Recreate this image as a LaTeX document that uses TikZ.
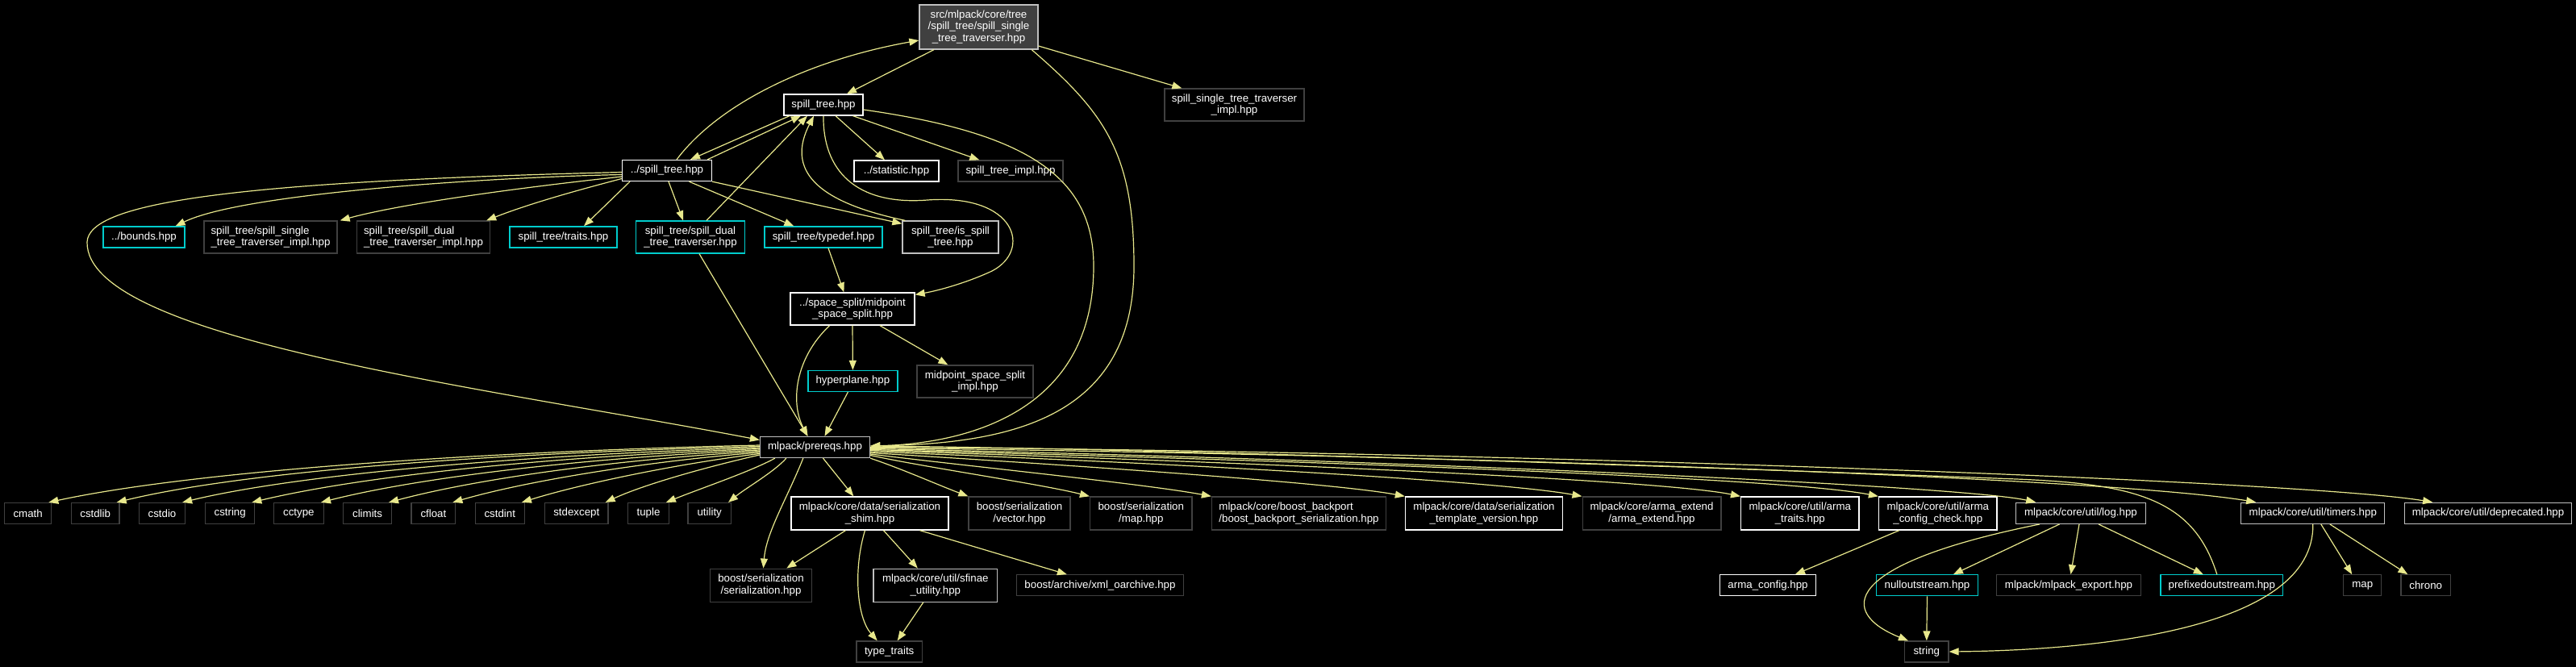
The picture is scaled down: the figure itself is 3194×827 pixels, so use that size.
\documentclass[tikz,border=0pt]{standalone}
\usepackage{fontspec}
\setmainfont{Liberation Sans}
\usetikzlibrary{arrows.meta}
\definecolor{edgec}{RGB}{232,232,140}
\definecolor{cyanb}{RGB}{0,204,204}
\definecolor{lgray}{RGB}{191,191,191}
\definecolor{dgray}{RGB}{64,64,64}
\definecolor{topfill}{RGB}{64,64,64}
\begin{document}
\begin{tikzpicture}[x=1pt,y=-1pt,
  box/.style={rectangle, fill=black, text=white, line width=1.3pt, inner sep=0pt, align=center,
    font=\fontsize{13.3}{14.7}\selectfont},
  bw/.style={box, draw=white},
  bg/.style={box, draw=lgray},
  bd/.style={box, draw=dgray},
  bc/.style={box, draw=cyanb},
  e/.style={draw=edgec, line width=1.2pt, -{Triangle[length=12pt,width=9pt]}}]
\fill[black] (0,0) rectangle (3194,827);
\useasboundingbox (0,0) rectangle (3194,827);

% ---- nodes ----
\node[box, draw=lgray, fill=topfill, minimum width=147, minimum height=55] (T) at (1213.5,33.5)
  {src/mlpack/core/tree\\/spill\_tree/spill\_single\\\_tree\_traverser.hpp};
\node[bw, minimum width=98, minimum height=26] (ST) at (1021,130) {spill\_tree.hpp};
\node[bd, minimum width=173, minimum height=40] (STI) at (1530.5,130) {spill\_single\_tree\_traverser\\\_impl.hpp};
\node[bw, minimum width=111, minimum height=26] (ST2) at (827,211.5) {../spill\_tree.hpp};
\node[bw, minimum width=105, minimum height=26] (STAT) at (1111.5,212) {../statistic.hpp};
\node[bd, minimum width=130, minimum height=26] (STIMPL) at (1253,212) {spill\_tree\_impl.hpp};
\node[bc, minimum width=101, minimum height=26] (BOUNDS) at (178.5,294) {../bounds.hpp};
\node[bd, align=left, minimum width=165, minimum height=40] (SSTI) at (335.5,294) {spill\_tree/spill\_single\\\_tree\_traverser\_impl.hpp};
\node[bd, align=left, minimum width=165, minimum height=40] (SDTI) at (525,294) {spill\_tree/spill\_dual\\\_tree\_traverser\_impl.hpp};
\node[bc, minimum width=133, minimum height=26] (TRAITS) at (698.5,294) {spill\_tree/traits.hpp};
\node[bc, minimum width=135, minimum height=40] (DT) at (856,294) {spill\_tree/spill\_dual\\\_tree\_traverser.hpp};
\node[bc, minimum width=146, minimum height=26] (TD) at (1021,294) {spill\_tree/typedef.hpp};
\node[bg, minimum width=119, minimum height=40] (ISST) at (1178.5,294) {spill\_tree/is\_spill\\\_tree.hpp};
\node[bw, minimum width=154, minimum height=40] (MS) at (1057,383) {../space\_split/midpoint\\\_space\_split.hpp};
\node[bc, minimum width=111, minimum height=26] (HP) at (1057.4,472.5) {hyperplane.hpp};
\node[bd, minimum width=144, minimum height=40] (MSI) at (1209,473) {midpoint\_space\_split\\\_impl.hpp};
\node[bg, minimum width=136, minimum height=26] (P) at (1010.5,554.5) {mlpack/prereqs.hpp};

% row 1
\node[bd, minimum width=58, minimum height=26] (cmath) at (34.7,636.5) {cmath};
\node[bd, minimum width=59.6, minimum height=26] (cstdlib) at (118.2,636.5) {cstdlib};
\node[bd, minimum width=57, minimum height=26] (cstdio) at (201,636.5) {cstdio};
\node[bd, minimum width=61, minimum height=26] (cstring) at (285.2,636.5) {cstring};
\node[bd, minimum width=62, minimum height=26] (cctype) at (370.4,636.5) {cctype};
\node[bd, minimum width=59.6, minimum height=26] (climits) at (455.6,636.5) {climits};
\node[bd, minimum width=54.7, minimum height=26] (cfloat) at (537.4,636.5) {cfloat};
\node[bd, minimum width=61, minimum height=26] (cstdint) at (619.8,636.5) {cstdint};
\node[bd, minimum width=78.4, minimum height=26] (stdexcept) at (714.8,636.5) {stdexcept};
\node[bd, minimum width=50.5, minimum height=26] (tuple) at (804,636.5) {tuple};
\node[bd, minimum width=53.4, minimum height=26] (utility) at (879.7,636.5) {utility};
\node[bw, minimum width=195, minimum height=41] (SS) at (1078.5,636.5) {mlpack/core/data/serialization\\\_shim.hpp};
\node[bd, minimum width=126, minimum height=41] (VEC) at (1264,636.5) {boost/serialization\\/vector.hpp};
\node[bd, minimum width=126.4, minimum height=41] (MAP) at (1414.8,636.5) {boost/serialization\\/map.hpp};
\node[bd, align=left, minimum width=216, minimum height=41] (BBS) at (1610.5,636.5) {mlpack/core/boost\_backport\\/boost\_backport\_serialization.hpp};
\node[bw, minimum width=195, minimum height=41] (TV) at (1840,636.5) {mlpack/core/data/serialization\\\_template\_version.hpp};
\node[bd, minimum width=171.7, minimum height=41] (AE) at (2048,636.5) {mlpack/core/arma\_extend\\/arma\_extend.hpp};
\node[bw, minimum width=146.4, minimum height=41] (AT) at (2231.8,636.5) {mlpack/core/util/arma\\\_traits.hpp};
\node[bw, minimum width=146.5, minimum height=41] (ACC) at (2402.8,636.5) {mlpack/core/util/arma\\\_config\_check.hpp};
\node[bg, minimum width=160.4, minimum height=26] (LOG) at (2580,636.3) {mlpack/core/util/log.hpp};
\node[bg, minimum width=178, minimum height=26] (TIM) at (2867.8,636.3) {mlpack/core/util/timers.hpp};
\node[bg, minimum width=206.5, minimum height=26] (DEP) at (3085,636.3) {mlpack/core/util/deprecated.hpp};

% row 2
\node[bd, minimum width=126.3, minimum height=41] (BSER) at (943.5,725.7) {boost/serialization\\/serialization.hpp};
\node[bg, minimum width=153.6, minimum height=41] (SFIN) at (1159.8,725.7) {mlpack/core/util/sfinae\\\_utility.hpp};
\node[bd, minimum width=207, minimum height=26] (XML) at (1364,725.8) {boost/archive/xml\_oarchive.hpp};
\node[bw, minimum width=118.6, minimum height=26] (ACFG) at (2192,725.8) {arma\_config.hpp};
\node[bc, minimum width=125.6, minimum height=26] (nul) at (2389.5,725.8) {nulloutstream.hpp};
\node[bd, minimum width=179.3, minimum height=26] (EXP) at (2565,725.8) {mlpack/mlpack\_export.hpp};
\node[bc, minimum width=151.5, minimum height=26] (PRE) at (2754.8,725.8) {prefixedoutstream.hpp};
\node[bd, minimum width=46.8, minimum height=26] (MAPB) at (2929.2,725.8) {map};
\node[bd, minimum width=61.4, minimum height=26] (CHR) at (3007.7,725.8) {chrono};

% row 3
\node[bd, minimum width=81.3, minimum height=26] (TT) at (1102.7,808) {type\_traits};
\node[bd, minimum width=54.4, minimum height=26] (STR) at (2388.8,808) {string};

% ---- edges ----
\draw[e] ([xshift=18.6pt]T.south west) -- ([xshift=29pt]ST.north);
\draw[e] ([yshift=-23.5pt]T.east) -- ([xshift=22pt]STI.north west);
\draw[e] ([xshift=-8.4pt]T.south east) .. controls (1370,140) and (1406,190) .. (1406,330)
  .. controls (1406,520) and (1250,550) .. ([yshift=1.5pt]P.east);
\draw[e] ([yshift=-6pt]ST.east) .. controls (1275,165) and (1356,220) .. (1356,330)
  .. controls (1356,510) and (1200,550) .. ([yshift=1.5pt]P.east);
\draw[e] ([xshift=12pt]ST2.north) .. controls (890,130) and (1000,75) .. ([yshift=-16.5pt]T.west);
\draw[e] ([xshift=-42pt]ST.south) -- ([xshift=29pt]ST2.north);
\draw[e] ([xshift=-6pt]ST2.north east) -- ([xshift=-28pt]ST.south);
\draw[e] ([yshift=-5pt]ST2.west) .. controls (600,220) and (300,240) .. ([xshift=-12pt]BOUNDS.north east);
\draw[e] ([yshift=-7.5pt]ST2.west) .. controls (650,232) and (500,252) .. ([xshift=3pt]SSTI.north east);
\draw[e] ([yshift=-10pt]ST2.west) .. controls (700,240) and (650,255) .. ([xshift=-5pt]SDTI.north east);
\draw[e] ([xshift=-46pt]ST2.south) -- ([xshift=25.5pt]TRAITS.north);
\draw[e] ([xshift=2pt]ST2.south) -- ([xshift=-9pt]DT.north);
\draw[e] ([xshift=27.5pt]ST2.south) -- ([xshift=37pt]TD.north west);
\draw[e] (ST2.south east) -- ([yshift=-4pt]ISST.north west);
\draw[e] ([yshift=-2pt]ST2.west) .. controls (300,225) and (110,250) .. (108,300)
  .. controls (106,420) and (600,480) .. ([yshift=9pt]P.west);
\draw[e] ([xshift=15pt]ST.south) -- ([xshift=-14.5pt]STAT.north);
\draw[e] ([xshift=36.5pt]ST.south) -- ([xshift=27pt]STIMPL.north west);
\draw[e] (ST.south) .. controls (1020,210) and (1060,255) .. (1150,248)
  .. controls (1260,240) and (1280,310) .. (1230,336)
  .. controls (1200,350) and (1165,360) .. ([yshift=-3pt]MS.north east);
\draw[e] ([xshift=4pt]ISST.north west) .. controls (1010,250) and (975,210) .. ([xshift=-12pt]ST.south);
\draw[e] ([xshift=20pt]DT.north) -- ([xshift=-20pt]ST.south);
\draw[e] ([xshift=11pt]DT.south) -- ([xshift=-9pt]P.north);
\draw[e] ([xshift=6pt]TD.south) -- ([xshift=-10.6pt]MS.north);
\draw[e] (MS.south) -- (HP.north);
\draw[e] ([xshift=34pt]MS.south) -- ([xshift=39pt]MSI.north west);
\draw[e] ([xshift=-28.4pt]MS.south) .. controls (985,445) and (980,500) .. ([xshift=-9pt]P.north);
\draw[e] ([xshift=-6pt]HP.south) -- ([xshift=12pt]P.north);

% prereqs -> left row
\draw[e] ([yshift=2.5pt]P.west) .. controls (593,560) and (240,584) .. ([xshift=-4pt]cmath.north east);
\draw[e] ([yshift=1pt]P.west) .. controls (600,562) and (300,585) .. ([xshift=-4pt]cstdlib.north east);
\draw[e] ([yshift=-0.5pt]P.west) .. controls (650,564) and (370,588) .. ([xshift=-4pt]cstdio.north east);
\draw[e] ([yshift=-2pt]P.west) .. controls (680,566) and (450,590) .. ([xshift=-4pt]cstring.north east);
\draw[e] ([yshift=-3.5pt]P.west) .. controls (720,568) and (520,592) .. ([xshift=-4pt]cctype.north east);
\draw[e] ([yshift=-5pt]P.west) .. controls (760,570) and (590,594) .. ([xshift=-4pt]climits.north east);
\draw[e] ([yshift=-6.5pt]P.west) .. controls (800,572) and (650,597) .. ([xshift=-4pt]cfloat.north east);
\draw[e] ([yshift=-8pt]P.west) .. controls (840,575) and (720,600) .. ([xshift=-4pt]cstdint.north east);
\draw[e] ([yshift=-9.5pt]P.west) .. controls (880,578) and (800,600) .. ([xshift=-4pt]stdexcept.north east);
\draw[e] ([xshift=19pt]P.south west) .. controls (930,585) and (870,605) .. ([xshift=-4pt]tuple.north east);
\draw[e] ([xshift=33pt]P.south west) .. controls (960,585) and (925,605) .. ([xshift=-4pt]utility.north east);
\draw[e] ([xshift=54pt]P.south west) .. controls (975,620) and (950,660) .. ([xshift=3pt]BSER.north);
\draw[e] ([xshift=10pt]P.south) -- ([xshift=78pt]SS.north west);

% prereqs -> right row
\draw[e] (P.south east) .. controls (1120,582) and (1160,600) .. (VEC.north west);
\draw[e] ([yshift=-10pt]P.east) .. controls (1150,580) and (1290,600) .. (MAP.north west);
\draw[e] ([yshift=-8.5pt]P.east) .. controls (1200,578) and (1420,600) .. (BBS.north west);
\draw[e] ([yshift=-7pt]P.east) .. controls (1300,575) and (1650,598) .. (TV.north west);
\draw[e] ([yshift=-5.5pt]P.east) .. controls (1400,572) and (1850,595) .. (AE.north west);
\draw[e] ([yshift=-4pt]P.east) .. controls (1450,570) and (2050,593) .. (AT.north west);
\draw[e] ([yshift=-3pt]P.east) .. controls (1500,568) and (2200,590) .. (ACC.north west);
\draw[e] ([yshift=-2pt]P.east) .. controls (1600,566) and (2420,600) .. ([xshift=25pt]LOG.north west);
\draw[e] ([yshift=-1pt]P.east) .. controls (1700,562) and (2600,590) .. ([xshift=19pt]TIM.north west);
\draw[e] (P.east) .. controls (1800,558) and (2850,595) .. ([xshift=35pt]DEP.north west);
\draw[e] ([xshift=-6pt]PRE.north) .. controls (2720,620) and (2650,600) .. (2500,594)
  .. controls (2000,575) and (1400,556) .. ([yshift=1.5pt]P.east);

% lower part
\draw[e] ([xshift=-30pt]SS.south) -- ([xshift=-32pt]BSER.north east);
\draw[e] ([xshift=-6pt]SS.south) .. controls (1058,705) and (1062,765) .. ([xshift=-15pt]TT.north);
\draw[e] ([xshift=17pt]SS.south) -- ([xshift=-22pt]SFIN.north);
\draw[e] ([xshift=62pt]SS.south) -- ([xshift=63pt]XML.north west);
\draw[e] ([xshift=-15pt]SFIN.south) -- ([xshift=10pt]TT.north);
\draw[e] ([xshift=-48pt]ACC.south) -- ([xshift=-26pt]ACFG.north east);
\draw[e] ([xshift=-51pt]LOG.south) .. controls (2280,700) and (2280,760) .. ([xshift=5pt]STR.north west);
\draw[e] ([xshift=-26.5pt]LOG.south) -- ([xshift=-31pt]nul.north east);
\draw[e] ([xshift=-2pt]LOG.south) -- ([xshift=2.5pt]EXP.north);
\draw[e] ([xshift=22pt]LOG.south) -- ([xshift=-23pt]PRE.north);
\draw[e] (nul.south) -- (STR.north);
\draw[e] (TIM.south) .. controls (2870,780) and (2600,806) .. (STR.east);
\draw[e] ([xshift=10pt]TIM.south) -- ([xshift=-13pt]MAPB.north);
\draw[e] ([xshift=21pt]TIM.south) -- ([xshift=9pt]CHR.north west);
\end{tikzpicture}
\end{document}
